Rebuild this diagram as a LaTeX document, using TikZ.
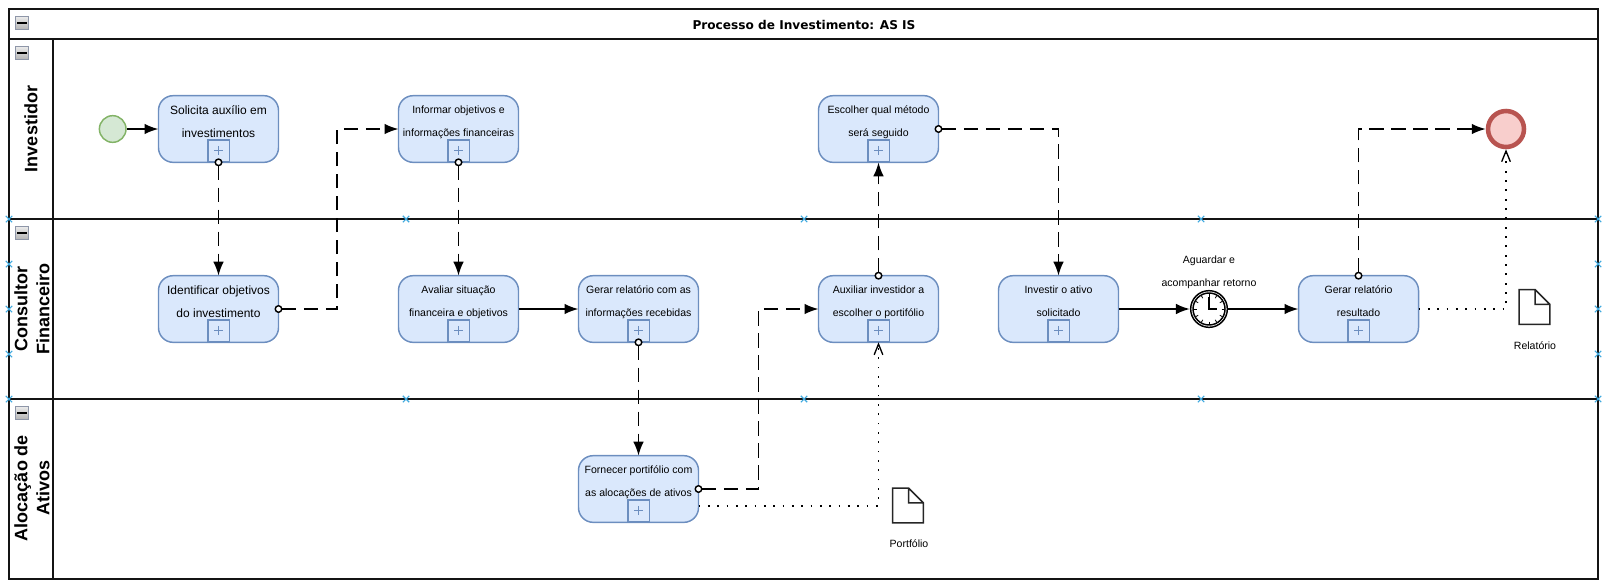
\documentclass[tikz,border=0pt]{standalone}
\usepackage{fontspec}
\setmainfont{Liberation Sans}
\newfontfamily\titlefont{DejaVu Sans}
\usetikzlibrary{arrows.meta}
\usetikzlibrary{shapes.misc}
\definecolor{taskfill}{HTML}{DAE8FC}
\definecolor{taskline}{HTML}{6C8EBF}
\definecolor{startfill}{HTML}{D5E8D4}
\definecolor{startline}{HTML}{82B366}
\definecolor{endfill}{HTML}{F8CECC}
\definecolor{endline}{HTML}{B85450}
\definecolor{iconline}{HTML}{8E96A8}
\definecolor{markcolor}{HTML}{3FA9DF}
\definecolor{laneline}{HTML}{141414}
\tikzset{>={Latex[length=10.5pt,width=8pt]}}

\begin{document}
\begin{tikzpicture}[x=0.75pt, y=-0.75pt]
    % px of the reference, y grows downwards
    \tikzstyle{task}=[rectangle, draw=taskline, fill=taskfill, line width=1.1pt, rounded corners=11pt,
        minimum width=90pt, minimum height=50pt, inner sep=0pt, outer sep=0pt, align=center,
        font=\fontsize{7.9}{17.25}\selectfont, node distance=135pt]
    \tikzstyle{bigtask}=[task, font=\fontsize{9}{17.25}\selectfont]
    \tikzstyle{plusbox}=[rectangle, draw=taskline, line width=1.2pt, minimum size=16.2pt, inner sep=0pt, anchor=south,
        path picture={\draw[taskline, line width=1pt] (path picture bounding box.center) +(-4.5,0) -- +(4.5,0)
            (path picture bounding box.center) +(0,-4.5) -- +(0,4.5);}]
    \tikzstyle{icon}=[rectangle, draw=iconline, line width=0.9pt, top color=gray!15, bottom color=gray!60, minimum size=10pt, inner sep=0pt,
        path picture={\draw[black, line width=1.5pt] (path picture bounding box.center) +(-5,0) -- +(5,0);}]
    \tikzstyle{lanename}=[rotate=90, align=center, font=\fontsize{13.5}{16.5}\selectfont\bfseries]
    \tikzstyle{lanemark}=[cross out, draw=markcolor, line width=0.8pt, minimum size=4pt, inner sep=0pt]
    \tikzstyle{doc}=[rectangle, minimum width=23pt, minimum height=26pt, inner sep=0pt, outer sep=0pt]
    \tikzstyle{small}=[align=center, font=\fontsize{7.9}{17.25}\selectfont]
    \tikzstyle{flow}=[->, black, line width=1.5pt]
    \tikzstyle{msg}=[{Circle[open, fill=white, length=6pt, width=6pt, line width=1.1pt]}->, black, line width=1.3pt,
        dash pattern=on 11pt off 5.5pt, shorten <=-3pt]
    \tikzstyle{data}=[-{Straight Barb[length=8pt,width=6.5pt,line width=1pt]}, black, line width=1.3pt, dash pattern=on 1.3pt off 5.7pt]

    % pool and lanes
    \draw[laneline, line width=1.5pt] (8.5,9) rectangle (1598,579);
    \draw[laneline, line width=1.5pt] (8.5,39) -- (1598,39);
    \draw[laneline, line width=1.5pt] (8.5,219) -- (1598,219);
    \draw[laneline, line width=1.5pt] (8.5,399) -- (1598,399);
    \draw[laneline, line width=1.5pt] (53,39) -- (53,579);

    \node[font=\fontsize{9.1}{12}\titlefont\bfseries] (title) at (804,25) {Processo de Investimento: AS IS};
    \node[lanename] (inv) at (31,129) {Investidor};
    \node[lanename] (con) at (32,309) {Consultor\\Financeiro};
    \node[lanename] (alo) at (32,488) {Alocação de\\Ativos};

    \node[icon] (i0) at (22,23) {};
    \node[icon] (i1) at (22,53) {};
    \node[icon] (i2) at (22,233) {};
    \node[icon] (i3) at (22,413) {};

    \foreach \x in {9,406,804,1201,1598}
        \foreach \y in {219,399}
            \node[lanemark] (m\x\y) at (\x,\y) {};
    \foreach \x in {9,1598}
        \foreach \y in {264,309,354}
            \node[lanemark] (m\x\y) at (\x,\y) {};

    % tasks
    \node[bigtask] (S) at (218.5,129) {Solicita auxílio em\\investimentos\\[-6pt]};
    \node[bigtask] (I) [below of = S] {Identificar objetivos\\do investimento\\[-6pt]};
    \node[task] (N) at (458.5,129) {Informar objetivos e\\informações financeiras\\[-6pt]};
    \node[task] (A) [below of = N] {Avaliar situação\\financeira e objetivos\\[-6pt]};
    \node[task] (G) at (638.5,309) {Gerar relatório com as\\informações recebidas\\[-6pt]};
    \node[task] (F) [below of = G] {Fornecer portifólio com\\as alocações de ativos\\[-6pt]};
    \node[task] (E) at (878.5,129) {Escolher qual método\\será seguido\\[-6pt]};
    \node[task] (X) [below of = E] {Auxiliar investidor a\\escolher o portifólio\\[-6pt]};
    \node[task] (V) at (1058.5,309) {Investir o ativo\\solicitado\\[-6pt]};
    \node[task] (R) at (1358.5,309) {Gerar relatório\\resultado\\[-6pt]};
    \foreach \t in {S,I,N,A,G,F,E,X,V,R}
        \node[plusbox] (\t p) at (\t.south) {};

    % events
    \node[circle, draw=startline, fill=startfill, line width=1.1pt, minimum size=20pt, inner sep=0pt] (start) at (112.7,129) {};
    \node[circle, draw=endline, fill=endfill, line width=3.4pt, minimum size=27pt, inner sep=0pt] (end) at (1506,129) {};
    \node[circle, draw=black, fill=white, line width=1.1pt, minimum size=27.5pt, inner sep=0pt,
        path picture={
            \draw[black, line width=1.1pt] (path picture bounding box.center) circle (16);
            \foreach \a in {0,30,...,330}
                \draw[black, line width=0.6pt] (path picture bounding box.center) +(\a:12.5) -- +(\a:15);
            \draw[black, line width=1.1pt] (path picture bounding box.center) +(0,-12) -- +(0,0) -- +(8,0);
        }] (T) at (1209,309) {};
    \node[small] (Tl) at (1209,272.5) {Aguardar e\\acompanhar retorno};

    % data objects
    \node[doc] (P) at (908,505.5) {};
    \node[doc] (D) at (1534.5,307) {};
    \foreach \d in {P,D}
        \draw[black!85, line width=1.1pt, fill=white] (\d.north west) -- ([xshift=-11pt]\d.north east) -- ([yshift=-11pt]\d.north east) -- (\d.south east) -- (\d.south west) -- cycle
            ([xshift=-11pt]\d.north east) -- ([xshift=-11pt,yshift=-11pt]\d.north east) -- ([yshift=-11pt]\d.north east);
    \node[small] (Pl) at (909,544) {Portfólio};
    \node[small] (Dl) at (1535,346) {Relatório};

    % connectors
    \coordinate (w1) at (337,129);
    \coordinate (w2) at (758.5,309);
    \draw[flow] (start) -- (S);
    \draw[flow] (A) -- (G);
    \draw[flow] (V) -- (T);
    \draw[flow] (T) -- (R);
    \draw[msg] (S.south) -- (I.north);
    \draw[msg] (N.south) -- (A.north);
    \draw[msg] (G.south) -- (F.north);
    \draw[msg] (X.north) -- (E.south);
    \draw[msg] (I.east) -| (w1) -- (N.west);
    \draw[msg] (F.east) -| (w2) -- (X.west);
    \draw[msg] (E.east) -| (V.north);
    \draw[msg] (R.north) |- (end.west);
    \draw[data] ([yshift=-12.5pt]F.east) -| (X.south);
    \draw[data] (R.east) -| (end.south);

    \useasboundingbox (0,0) rectangle (1609,586);
\end{tikzpicture}
\end{document}
